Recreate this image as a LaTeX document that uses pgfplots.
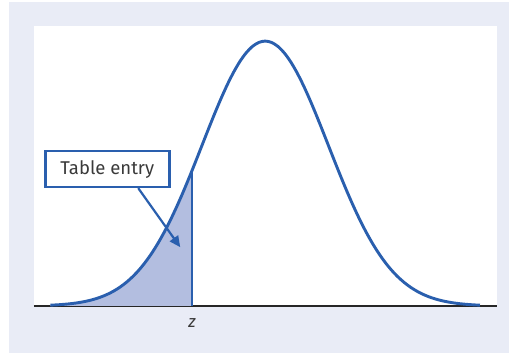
\documentclass[border=0pt]{standalone}
\usepackage{fontspec}
\setmainfont{Fira Sans}
\usepackage{pgfplots}
\pgfplotsset{compat=1.18}
\usetikzlibrary{arrows.meta}
\definecolor{frame}{HTML}{E9ECF6}
\definecolor{curve}{HTML}{2A5FAE}
\definecolor{tail}{HTML}{B3BEE0}
\definecolor{ink}{HTML}{3A3A3A}

\begin{document}
\begin{tikzpicture}
% outer frame, white panel
\path[fill=white] (-34pt,-49pt) rectangle (475pt,306pt);
\fill[frame] (-25pt,-47pt) rectangle (475pt,304pt);
\fill[white] (0pt,0pt) rectangle (463pt,280pt);
\begin{axis}[
  scale only axis, width=463pt, height=280pt,
  xmin=-3.66, xmax=3.67, ymin=0, ymax=1.057,
  axis x line=bottom, axis y line=none,
  axis line style={-, line width=1.3pt, black!85},
  xtick={-1.16}, xticklabels={\itshape z},
  major tick length=0pt,
  xticklabel style={font=\fontsize{17}{19}\selectfont, text=ink, yshift=-9pt},
  ytick=\empty,
  clip=false,
]
% shaded left tail up to z
\addplot[fill=tail, draw=none] coordinates {
(-3.4,0.00309) (-3.3,0.00432) (-3.2,0.00598) (-3.1,0.00819) (-3.0,0.01111)
(-2.9,0.01492) (-2.8,0.01984) (-2.7,0.02612) (-2.6,0.03405) (-2.5,0.04394)
(-2.4,0.05613) (-2.3,0.07101) (-2.2,0.08892) (-2.1,0.11025) (-2.0,0.13534)
(-1.9,0.16447) (-1.8,0.19790) (-1.7,0.23575) (-1.6,0.27804) (-1.5,0.32465)
(-1.4,0.37531) (-1.3,0.42956) (-1.2,0.48675) (-1.16,0.51024)
} \closedcycle;
% normal curve
\addplot[curve, line width=2.9pt, smooth, line join=round] coordinates {
(-3.4,0.00309) (-3.3,0.00432) (-3.2,0.00598) (-3.1,0.00819) (-3.0,0.01111)
(-2.9,0.01492) (-2.8,0.01984) (-2.7,0.02612) (-2.6,0.03405) (-2.5,0.04394)
(-2.4,0.05613) (-2.3,0.07101) (-2.2,0.08892) (-2.1,0.11025) (-2.0,0.13534)
(-1.9,0.16447) (-1.8,0.19790) (-1.7,0.23575) (-1.6,0.27804) (-1.5,0.32465)
(-1.4,0.37531) (-1.3,0.42956) (-1.2,0.48675) (-1.1,0.54607) (-1.0,0.60653)
(-0.9,0.66698) (-0.8,0.72615) (-0.7,0.78270) (-0.6,0.83527) (-0.5,0.88250)
(-0.4,0.92312) (-0.3,0.95600) (-0.2,0.98020) (-0.1,0.99501) (0.0,1.00000)
(0.1,0.99501) (0.2,0.98020) (0.3,0.95600) (0.4,0.92312) (0.5,0.88250)
(0.6,0.83527) (0.7,0.78270) (0.8,0.72615) (0.9,0.66698) (1.0,0.60653)
(1.1,0.54607) (1.2,0.48675) (1.3,0.42956) (1.4,0.37531) (1.5,0.32465)
(1.6,0.27804) (1.7,0.23575) (1.8,0.19790) (1.9,0.16447) (2.0,0.13534)
(2.1,0.11025) (2.2,0.08892) (2.3,0.07101) (2.4,0.05613) (2.5,0.04394)
(2.6,0.03405) (2.7,0.02612) (2.8,0.01984) (2.9,0.01492) (3.0,0.01111)
(3.1,0.00819) (3.2,0.00598) (3.3,0.00432) (3.4,0.00309)
};
% vertical line at z
\addplot[curve, line width=2.4pt] coordinates {(-1.16,0) (-1.16,0.5102)};
% label box and arrow
\draw[curve, line width=2.2pt, -{Triangle[length=11pt,width=10pt]}]
  (axis cs:-2.01,0.445) -- (axis cs:-1.345,0.222);
\node[draw=curve, line width=2.8pt, fill=white, text=ink,
  minimum width=124pt, minimum height=36pt, inner sep=0pt,
  font=\fontsize{18.5}{20}\selectfont]
  at (axis cs:-2.5,0.517) {Table entry};
\end{axis}
\end{tikzpicture}
\end{document}
